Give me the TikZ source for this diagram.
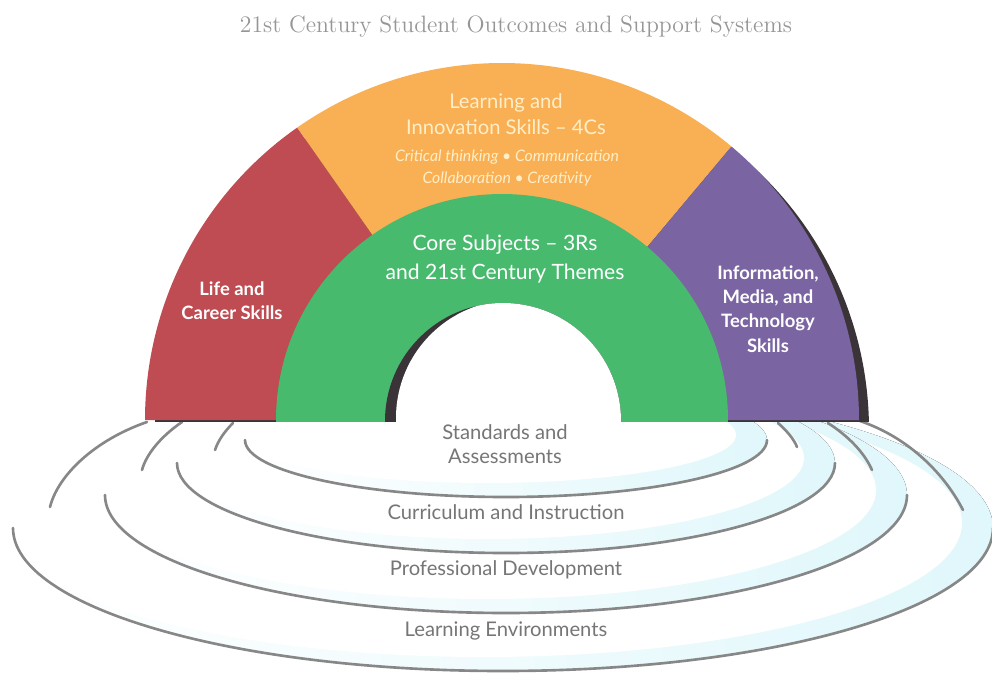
\documentclass[tikz,border=0pt]{standalone}
\usepackage{fontspec}
\setmainfont{Lato}
\newfontfamily\titlefont{Latin Modern Roman}
\usepackage{xcolor}
\usetikzlibrary{calc, positioning}

\definecolor{lifered}{RGB}{190,76,82}
\definecolor{learnorange}{RGB}{249,176,84}
\definecolor{infopurple}{RGB}{122,100,162}
\definecolor{coregreen}{RGB}{72,186,110}
\definecolor{archshadow}{RGB}{58,52,56}
\definecolor{ringgray}{RGB}{135,135,135}
\definecolor{glowcyan}{RGB}{224,247,251}
\definecolor{labelgray}{RGB}{118,118,118}
\definecolor{titlegray}{RGB}{150,150,150}
\definecolor{creamtext}{RGB}{255,238,200}

\tikzset{
  ringline/.style={draw=ringgray, line width=1.5pt, line cap=round},
  glow/.style={left color=white, right color=glowcyan, draw=none},
  boldlabel/.style={text=white, align=center, font=\fontsize{10.5}{13.8}\selectfont\bfseries},
  softlabel/.style={align=center, font=\fontsize{11.5}{15}\selectfont},
  baselabel/.style={text=labelgray, align=center, font=\fontsize{11.5}{13.7}\selectfont},
}

\begin{document}
\begin{tikzpicture}[x=0.02cm, y=-0.02cm, line join=round]

        \useasboundingbox (0,0) rectangle (992,673);

        % =========================
        % TÂM CỦA VÒM
        % =========================
        \coordinate (O) at (502,420);
        \coordinate (H) at (503,421);

        % =========================
        % CÁC VÒNG ĐỠ - VỆT SÁNG
        % =========================
        \begin{scope}
            \clip (0,421) rectangle (992,673);
            \foreach \cx/\cy/\ra/\rb in {503/528/490/143, 506/495/401/118,
                                         506/463/329/90, 506/440/261/57}{
                \fill[glow]  (\cx,\cy) ellipse [x radius=\ra, y radius=\rb];
                \fill[white] (\cx-19,\cy-5) ellipse [x radius=\ra-12, y radius=\rb-9];
            }
        \end{scope}

        % =========================
        % CÁC VÒNG ĐỠ - NÉT CUNG
        % =========================

        % Cung dưới
        \draw[ringline]
            (13,528) arc[start angle=180, end angle=0, x radius=490, y radius=143];

        \draw[ringline]
            (105,495) arc[start angle=180, end angle=0, x radius=401, y radius=118];

        \draw[ringline]
            (177,463) arc[start angle=180, end angle=0, x radius=329, y radius=90];

        \draw[ringline]
            (245,440) arc[start angle=180, end angle=0, x radius=261, y radius=57];

        % Cung trên sát chân vòm
        \draw[ringline]
            (147,422) .. controls (95,440) and (58,475) .. (50,507);

        \draw[ringline]
            (860,421) .. controls (910,438) and (945,475) .. (963,510);

        \draw[ringline]
            (182,422) .. controls (160,437) and (146,455) .. (142,470);

        \draw[ringline]
            (828,423) .. controls (848,436) and (864,452) .. (872,470);

        \draw[ringline]
            (233,423) .. controls (224,432) and (218,441) .. (215,450);

        \draw[ringline]
            (778,423) .. controls (786,430) and (794,439) .. (797,447);

        % =========================
        % VÒM NGOÀI VÀ VÒM TRONG
        % =========================
        \begin{scope}
            \clip (0,0) rectangle (992,421);

            % Bóng đổ bên phải
            \fill[archshadow] ($(O)+(10,10)$) circle [radius=357];

            % Ba phần vòm ngoài
            \fill[lifered]
                (O) -- ++(180:357) arc[start angle=180, end angle=235, radius=357] -- cycle;

            \fill[learnorange]
                (O) -- ++(235:357) arc[start angle=235, end angle=310, radius=357] -- cycle;

            \fill[infopurple]
                (O) -- ++(310:357) arc[start angle=310, end angle=360, radius=357] -- cycle;

            % Vòm trong
            \fill[coregreen] (O) circle [radius=226];

            % Lỗ giữa và bóng của nó
            \fill[archshadow] (H) circle [radius=118];
            \begin{scope}
                \clip (H) circle [radius=118];
                \fill[white] ($(H)+(11,-3)$) circle [radius=118];
            \end{scope}
        \end{scope}

        % =========================
        % NHÃN
        % =========================
        \node[text=titlegray, font=\titlefont\fontsize{13.5}{16}\selectfont]
            (title) at (516,27) {21st Century Student Outcomes and Support Systems};

        \node[softlabel, text=creamtext] (learn) at (506,114)
            {Learning and\\Innovation Skills -- 4Cs};

        \node[softlabel, text=creamtext, font=\fontsize{9}{12.5}\selectfont\itshape]
            (fourcs) at (507,168)
            {Critical thinking • Communication\\Collaboration • Creativity};

        \node[softlabel, text=white, font=\fontsize{12}{16}\selectfont]
            (core) at (505,259) {Core Subjects -- 3Rs\\and 21st Century Themes};

        \node[boldlabel] (life) at (232,301) {Life and\\Career Skills};

        \node[boldlabel] (info) at (768,309)
            {Information,\\Media, and\\Technology\\Skills};

        \node[baselabel] (standards) at (505,444) {Standards and\\Assessments};
        \node[baselabel] (curriculum) at (506,512) {Curriculum and Instruction};
        \node[baselabel] (profdev) at (506,570) {Professional Development};
        \node[baselabel] (environ) at (506,631) {Learning Environments};

\end{tikzpicture}
\end{document}
